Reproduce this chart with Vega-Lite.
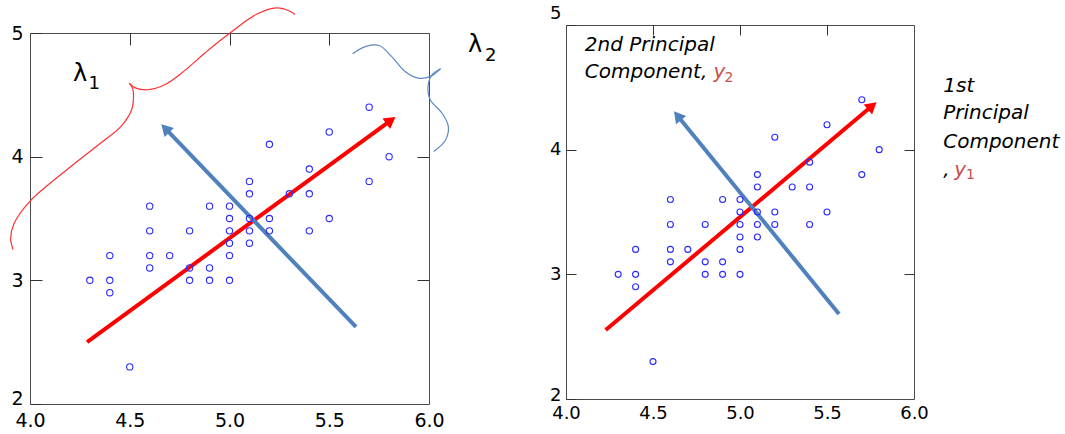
{
  "$schema": "https://vega.github.io/schema/vega-lite/v6.json",
  "background": "white",
  "padding": {"left": 7, "top": 3, "right": 2, "bottom": 0},
  "config": {
    "view": {"stroke": "#4a4a4a", "strokeWidth": 1},
    "font": "DejaVu Sans",
    "axis": {"labelFont": "DejaVu Sans", "labelColor": "#000000", "tickColor": "#333333", "tickWidth": 1},
    "text": {"font": "DejaVu Sans"}
  },
  "datasets": {
    "points": [
      {"x": 4.3, "y": 3.0}, {"x": 4.4, "y": 3.2}, {"x": 4.4, "y": 3.0}, {"x": 4.4, "y": 2.9}, {"x": 4.5, "y": 2.3},
      {"x": 4.6, "y": 3.6}, {"x": 4.6, "y": 3.4}, {"x": 4.6, "y": 3.2}, {"x": 4.6, "y": 3.1}, {"x": 4.7, "y": 3.2},
      {"x": 4.8, "y": 3.4}, {"x": 4.8, "y": 3.1}, {"x": 4.8, "y": 3.0}, {"x": 4.9, "y": 3.6}, {"x": 4.9, "y": 3.1},
      {"x": 4.9, "y": 3.0}, {"x": 5.0, "y": 3.6}, {"x": 5.0, "y": 3.5}, {"x": 5.0, "y": 3.4}, {"x": 5.0, "y": 3.3},
      {"x": 5.0, "y": 3.2}, {"x": 5.0, "y": 3.0}, {"x": 5.1, "y": 3.8}, {"x": 5.1, "y": 3.7}, {"x": 5.1, "y": 3.5},
      {"x": 5.1, "y": 3.4}, {"x": 5.1, "y": 3.3}, {"x": 5.2, "y": 4.1}, {"x": 5.2, "y": 3.5}, {"x": 5.2, "y": 3.4},
      {"x": 5.3, "y": 3.7}, {"x": 5.4, "y": 3.9}, {"x": 5.4, "y": 3.7}, {"x": 5.4, "y": 3.4}, {"x": 5.5, "y": 4.2},
      {"x": 5.5, "y": 3.5}, {"x": 5.7, "y": 4.4}, {"x": 5.7, "y": 3.8}, {"x": 5.8, "y": 4.0}
    ],
    "braceRed": [
      {"seg": "a", "i": 0, "x": 3.915, "y": 3.249}, {"seg": "a", "i": 1, "x": 3.903, "y": 3.338},
      {"seg": "a", "i": 2, "x": 3.92, "y": 3.459}, {"seg": "a", "i": 3, "x": 3.997, "y": 3.635},
      {"seg": "a", "i": 4, "x": 4.183, "y": 3.892}, {"seg": "a", "i": 5, "x": 4.353, "y": 4.108},
      {"seg": "a", "i": 6, "x": 4.455, "y": 4.243}, {"seg": "a", "i": 7, "x": 4.509, "y": 4.378},
      {"seg": "a", "i": 8, "x": 4.519, "y": 4.486}, {"seg": "a", "i": 9, "x": 4.514, "y": 4.554},
      {"seg": "a", "i": 10, "x": 4.497, "y": 4.595},
      {"seg": "b", "i": 0, "x": 4.497, "y": 4.595}, {"seg": "b", "i": 1, "x": 4.531, "y": 4.554},
      {"seg": "b", "i": 2, "x": 4.59, "y": 4.541}, {"seg": "b", "i": 3, "x": 4.675, "y": 4.581},
      {"seg": "b", "i": 4, "x": 4.76, "y": 4.676}, {"seg": "b", "i": 5, "x": 4.896, "y": 4.865},
      {"seg": "b", "i": 6, "x": 5.014, "y": 5.014}, {"seg": "b", "i": 7, "x": 5.133, "y": 5.149},
      {"seg": "b", "i": 8, "x": 5.235, "y": 5.203}, {"seg": "b", "i": 9, "x": 5.303, "y": 5.176},
      {"seg": "b", "i": 10, "x": 5.328, "y": 5.149}
    ],
    "braceBlue": [
      {"seg": "a", "i": 0, "x": 5.617, "y": 4.832}, {"seg": "a", "i": 1, "x": 5.684, "y": 4.892},
      {"seg": "a", "i": 2, "x": 5.752, "y": 4.897}, {"seg": "a", "i": 3, "x": 5.812, "y": 4.811},
      {"seg": "a", "i": 4, "x": 5.88, "y": 4.689}, {"seg": "a", "i": 5, "x": 5.947, "y": 4.635},
      {"seg": "a", "i": 6, "x": 6.007, "y": 4.649}, {"seg": "a", "i": 7, "x": 6.058, "y": 4.711},
      {"seg": "b", "i": 0, "x": 6.058, "y": 4.711}, {"seg": "b", "i": 1, "x": 6.015, "y": 4.662},
      {"seg": "b", "i": 2, "x": 5.995, "y": 4.568}, {"seg": "b", "i": 3, "x": 6.007, "y": 4.459},
      {"seg": "b", "i": 4, "x": 6.066, "y": 4.351}, {"seg": "b", "i": 5, "x": 6.097, "y": 4.243},
      {"seg": "b", "i": 6, "x": 6.083, "y": 4.135}, {"seg": "b", "i": 7, "x": 6.024, "y": 4.041}
    ],
    "arrowsL": [
      {"pc": 1, "x": 4.286, "y": 2.501, "x2": 5.809, "y2": 4.293},
      {"pc": 2, "x": 5.634, "y": 2.623, "x2": 4.678, "y2": 4.229}
    ],
    "arrowsR": [
      {"pc": 1, "x": 4.228, "y": 2.553, "x2": 5.76, "y2": 4.352},
      {"pc": 2, "x": 5.569, "y": 2.682, "x2": 4.641, "y2": 4.272}
    ],
    "lambdaMain": [
      {"t": "λ", "x": 4.216, "y": 4.608},
      {"t": "λ", "x": 6.195, "y": 4.846}
    ],
    "lambdaSub": [
      {"t": "1", "x": 4.293, "y": 4.547},
      {"t": "2", "x": 6.281, "y": 4.774}
    ],
    "labelsBlack": [
      {"t": "2nd Principal", "x": 4.108, "y": 4.794},
      {"t": "Component,", "x": 4.108, "y": 4.574},
      {"t": "1st", "x": 6.168, "y": 4.464},
      {"t": "Principal", "x": 6.168, "y": 4.244},
      {"t": "Component", "x": 6.168, "y": 4.017},
      {"t": ",", "x": 6.168, "y": 3.789}
    ],
    "labelsRed": [
      {"t": "y", "x": 4.848, "y": 4.574},
      {"t": "y", "x": 6.232, "y": 3.789}
    ],
    "labelsRedSub": [
      {"t": "2", "x": 4.911, "y": 4.54},
      {"t": "1", "x": 6.299, "y": 3.765}
    ]
  },
  "spacing": 536,
  "bounds": "flush",
  "hconcat": [
    {
      "spacing": 7,
      "bounds": "flush",
      "vconcat": [
        {
          "width": 399,
          "height": 1,
          "view": {"stroke": null, "fill": null},
          "data": {"values": [{"v": 0}]},
          "mark": {"type": "point", "opacity": 0},
          "encoding": {}
        },
        {
          "width": 399,
          "height": 371,
          "resolve": {"axis": {"x": "independent", "y": "independent"}},
          "layer": [
            {
              "data": {"name": "braceRed"},
              "mark": {"type": "line", "interpolate": "catmull-rom", "color": "#ff3030", "strokeWidth": 1.2},
              "encoding": {
                "x": {"field": "x", "type": "quantitative", "scale": {"domain": [4, 6], "nice": false, "zero": false}, "axis": null},
                "y": {"field": "y", "type": "quantitative", "scale": {"domain": [2, 5], "nice": false, "zero": false}, "axis": null},
                "detail": {"field": "seg"},
                "order": {"field": "i", "type": "quantitative"}
              }
            },
            {
              "data": {"name": "braceBlue"},
              "mark": {"type": "line", "interpolate": "catmull-rom", "color": "#5a8ac6", "strokeWidth": 1.2},
              "encoding": {
                "x": {"field": "x", "type": "quantitative", "scale": {"domain": [4, 6], "nice": false, "zero": false}, "axis": null},
                "y": {"field": "y", "type": "quantitative", "scale": {"domain": [2, 5], "nice": false, "zero": false}, "axis": null},
                "detail": {"field": "seg"},
                "order": {"field": "i", "type": "quantitative"}
              }
            },
            {
              "data": {"name": "arrowsL"},
              "transform": [{"filter": "datum.pc === 1"}],
              "mark": {"type": "rule", "color": "#ff0000", "strokeWidth": 4},
              "encoding": {
                "x": {"field": "x", "type": "quantitative", "scale": {"domain": [4, 6], "nice": false, "zero": false},
                      "axis": {"orient": "top", "values": [4.5, 5, 5.5], "labels": false, "tickSize": -12, "domain": false, "grid": false, "title": null}},
                "y": {"field": "y", "type": "quantitative", "scale": {"domain": [2, 5], "nice": false, "zero": false},
                      "axis": {"orient": "right", "values": [3, 4], "labels": false, "tickSize": -12, "domain": false, "grid": false, "title": null}},
                "x2": {"field": "x2"},
                "y2": {"field": "y2"}
              }
            },
            {
              "data": {"name": "arrowsL"},
              "transform": [{"filter": "datum.pc === 1"}],
              "mark": {"type": "point", "shape": "triangle-up", "filled": true, "color": "#ff0000", "opacity": 1, "size": 170, "angle": 54},
              "encoding": {
                "x": {"field": "x2", "type": "quantitative", "scale": {"domain": [4, 6], "nice": false, "zero": false}, "axis": null},
                "y": {"field": "y2", "type": "quantitative", "scale": {"domain": [2, 5], "nice": false, "zero": false}, "axis": null}
              }
            },
            {
              "data": {"name": "arrowsL"},
              "transform": [{"filter": "datum.pc === 2"}],
              "mark": {"type": "rule", "color": "#4f81bd", "strokeWidth": 4},
              "encoding": {
                "x": {"field": "x", "type": "quantitative", "scale": {"domain": [4, 6], "nice": false, "zero": false}, "axis": null},
                "y": {"field": "y", "type": "quantitative", "scale": {"domain": [2, 5], "nice": false, "zero": false}, "axis": null},
                "x2": {"field": "x2"},
                "y2": {"field": "y2"}
              }
            },
            {
              "data": {"name": "arrowsL"},
              "transform": [{"filter": "datum.pc === 2"}],
              "mark": {"type": "point", "shape": "triangle-up", "filled": true, "color": "#4f81bd", "opacity": 1, "size": 170, "angle": 316},
              "encoding": {
                "x": {"field": "x2", "type": "quantitative", "scale": {"domain": [4, 6], "nice": false, "zero": false}, "axis": null},
                "y": {"field": "y2", "type": "quantitative", "scale": {"domain": [2, 5], "nice": false, "zero": false}, "axis": null}
              }
            },
            {
              "data": {"name": "points"},
              "mark": {"type": "point", "shape": "circle", "filled": false, "color": "#2a2aff", "opacity": 1, "size": 40, "strokeWidth": 1.1},
              "encoding": {
                "x": {"field": "x", "type": "quantitative", "scale": {"domain": [4, 6], "nice": false, "zero": false},
                      "axis": {"orient": "bottom", "values": [4, 4.5, 5, 5.5, 6], "format": ".1f", "ticks": false, "domain": false, "grid": false, "title": null, "labelFontSize": 19, "labelPadding": 7, "labelFlush": false, "labelOverlap": false}},
                "y": {"field": "y", "type": "quantitative", "scale": {"domain": [2, 5], "nice": false, "zero": false},
                      "axis": {"orient": "left", "values": [2, 3, 4, 5], "format": "d", "tickSize": -12, "labelPadding": 19, "domain": false, "grid": false, "title": null, "labelFontSize": 19, "labelFlush": false, "labelOverlap": false,
                               "labelOffset": {"condition": {"test": "datum.value === 2", "value": -6}, "value": 0}}}
              }
            },
            {
              "data": {"name": "lambdaMain"},
              "mark": {"type": "text", "align": "left", "baseline": "alphabetic", "fontSize": 24, "color": "#000000"},
              "encoding": {
                "x": {"field": "x", "type": "quantitative", "scale": {"domain": [4, 6], "nice": false, "zero": false}, "axis": null},
                "y": {"field": "y", "type": "quantitative", "scale": {"domain": [2, 5], "nice": false, "zero": false}, "axis": null},
                "text": {"field": "t"}
              }
            },
            {
              "data": {"name": "lambdaSub"},
              "mark": {"type": "text", "align": "left", "baseline": "alphabetic", "fontSize": 18, "color": "#000000"},
              "encoding": {
                "x": {"field": "x", "type": "quantitative", "scale": {"domain": [4, 6], "nice": false, "zero": false}, "axis": null},
                "y": {"field": "y", "type": "quantitative", "scale": {"domain": [2, 5], "nice": false, "zero": false}, "axis": null},
                "text": {"field": "t"}
              }
            }
          ]
        }
      ]
    },
    {
      "width": 348,
      "height": 374,
      "resolve": {"axis": {"x": "independent", "y": "independent"}},
      "layer": [
        {
          "data": {"name": "arrowsR"},
          "transform": [{"filter": "datum.pc === 1"}],
          "mark": {"type": "rule", "color": "#ff0000", "strokeWidth": 4},
          "encoding": {
            "x": {"field": "x", "type": "quantitative", "scale": {"domain": [4, 6], "nice": false, "zero": false},
                  "axis": {"orient": "top", "values": [4.5, 5, 5.5], "labels": false, "tickSize": -10, "domain": false, "grid": false, "title": null}},
            "y": {"field": "y", "type": "quantitative", "scale": {"domain": [2, 5], "nice": false, "zero": false},
                  "axis": {"orient": "right", "values": [3, 4], "labels": false, "tickSize": -10, "domain": false, "grid": false, "title": null}},
            "x2": {"field": "x2"},
            "y2": {"field": "y2"}
          }
        },
        {
          "data": {"name": "arrowsR"},
          "transform": [{"filter": "datum.pc === 1"}],
          "mark": {"type": "point", "shape": "triangle-up", "filled": true, "color": "#ff0000", "opacity": 1, "size": 170, "angle": 50},
          "encoding": {
            "x": {"field": "x2", "type": "quantitative", "scale": {"domain": [4, 6], "nice": false, "zero": false}, "axis": null},
            "y": {"field": "y2", "type": "quantitative", "scale": {"domain": [2, 5], "nice": false, "zero": false}, "axis": null}
          }
        },
        {
          "data": {"name": "arrowsR"},
          "transform": [{"filter": "datum.pc === 2"}],
          "mark": {"type": "rule", "color": "#4f81bd", "strokeWidth": 4},
          "encoding": {
            "x": {"field": "x", "type": "quantitative", "scale": {"domain": [4, 6], "nice": false, "zero": false}, "axis": null},
            "y": {"field": "y", "type": "quantitative", "scale": {"domain": [2, 5], "nice": false, "zero": false}, "axis": null},
            "x2": {"field": "x2"},
            "y2": {"field": "y2"}
          }
        },
        {
          "data": {"name": "arrowsR"},
          "transform": [{"filter": "datum.pc === 2"}],
          "mark": {"type": "point", "shape": "triangle-up", "filled": true, "color": "#4f81bd", "opacity": 1, "size": 170, "angle": 321},
          "encoding": {
            "x": {"field": "x2", "type": "quantitative", "scale": {"domain": [4, 6], "nice": false, "zero": false}, "axis": null},
            "y": {"field": "y2", "type": "quantitative", "scale": {"domain": [2, 5], "nice": false, "zero": false}, "axis": null}
          }
        },
        {
          "data": {"name": "points"},
          "mark": {"type": "point", "shape": "circle", "filled": false, "color": "#2a2aff", "opacity": 1, "size": 36, "strokeWidth": 1.1},
          "encoding": {
            "x": {"field": "x", "type": "quantitative", "scale": {"domain": [4, 6], "nice": false, "zero": false},
                  "axis": {"orient": "bottom", "values": [4, 4.5, 5, 5.5, 6], "format": ".1f", "ticks": false, "domain": false, "grid": false, "title": null, "labelFontSize": 18, "labelPadding": 5, "labelFlush": false, "labelOverlap": false}},
            "y": {"field": "y", "type": "quantitative", "scale": {"domain": [2, 5], "nice": false, "zero": false},
                  "axis": {"orient": "left", "values": [2, 3, 4, 5], "format": "d", "tickSize": -10, "labelPadding": 15, "domain": false, "grid": false, "title": null, "labelFontSize": 18, "labelFlush": false, "labelOverlap": false,
                           "labelOffset": {"condition": [{"test": "datum.value === 5", "value": -12}, {"test": "datum.value === 2", "value": -4}], "value": 0}}}
          }
        },
        {
          "data": {"name": "labelsBlack"},
          "mark": {"type": "text", "align": "left", "baseline": "alphabetic", "fontSize": 20, "fontStyle": "italic", "color": "#000000"},
          "encoding": {
            "x": {"field": "x", "type": "quantitative", "scale": {"domain": [4, 6], "nice": false, "zero": false}, "axis": null},
            "y": {"field": "y", "type": "quantitative", "scale": {"domain": [2, 5], "nice": false, "zero": false}, "axis": null},
            "text": {"field": "t"}
          }
        },
        {
          "data": {"name": "labelsRed"},
          "mark": {"type": "text", "align": "left", "baseline": "alphabetic", "fontSize": 20, "fontStyle": "italic", "color": "#c9504f"},
          "encoding": {
            "x": {"field": "x", "type": "quantitative", "scale": {"domain": [4, 6], "nice": false, "zero": false}, "axis": null},
            "y": {"field": "y", "type": "quantitative", "scale": {"domain": [2, 5], "nice": false, "zero": false}, "axis": null},
            "text": {"field": "t"}
          }
        },
        {
          "data": {"name": "labelsRedSub"},
          "mark": {"type": "text", "align": "left", "baseline": "alphabetic", "fontSize": 14, "color": "#c9504f"},
          "encoding": {
            "x": {"field": "x", "type": "quantitative", "scale": {"domain": [4, 6], "nice": false, "zero": false}, "axis": null},
            "y": {"field": "y", "type": "quantitative", "scale": {"domain": [2, 5], "nice": false, "zero": false}, "axis": null},
            "text": {"field": "t"}
          }
        }
      ]
    }
  ]
}
